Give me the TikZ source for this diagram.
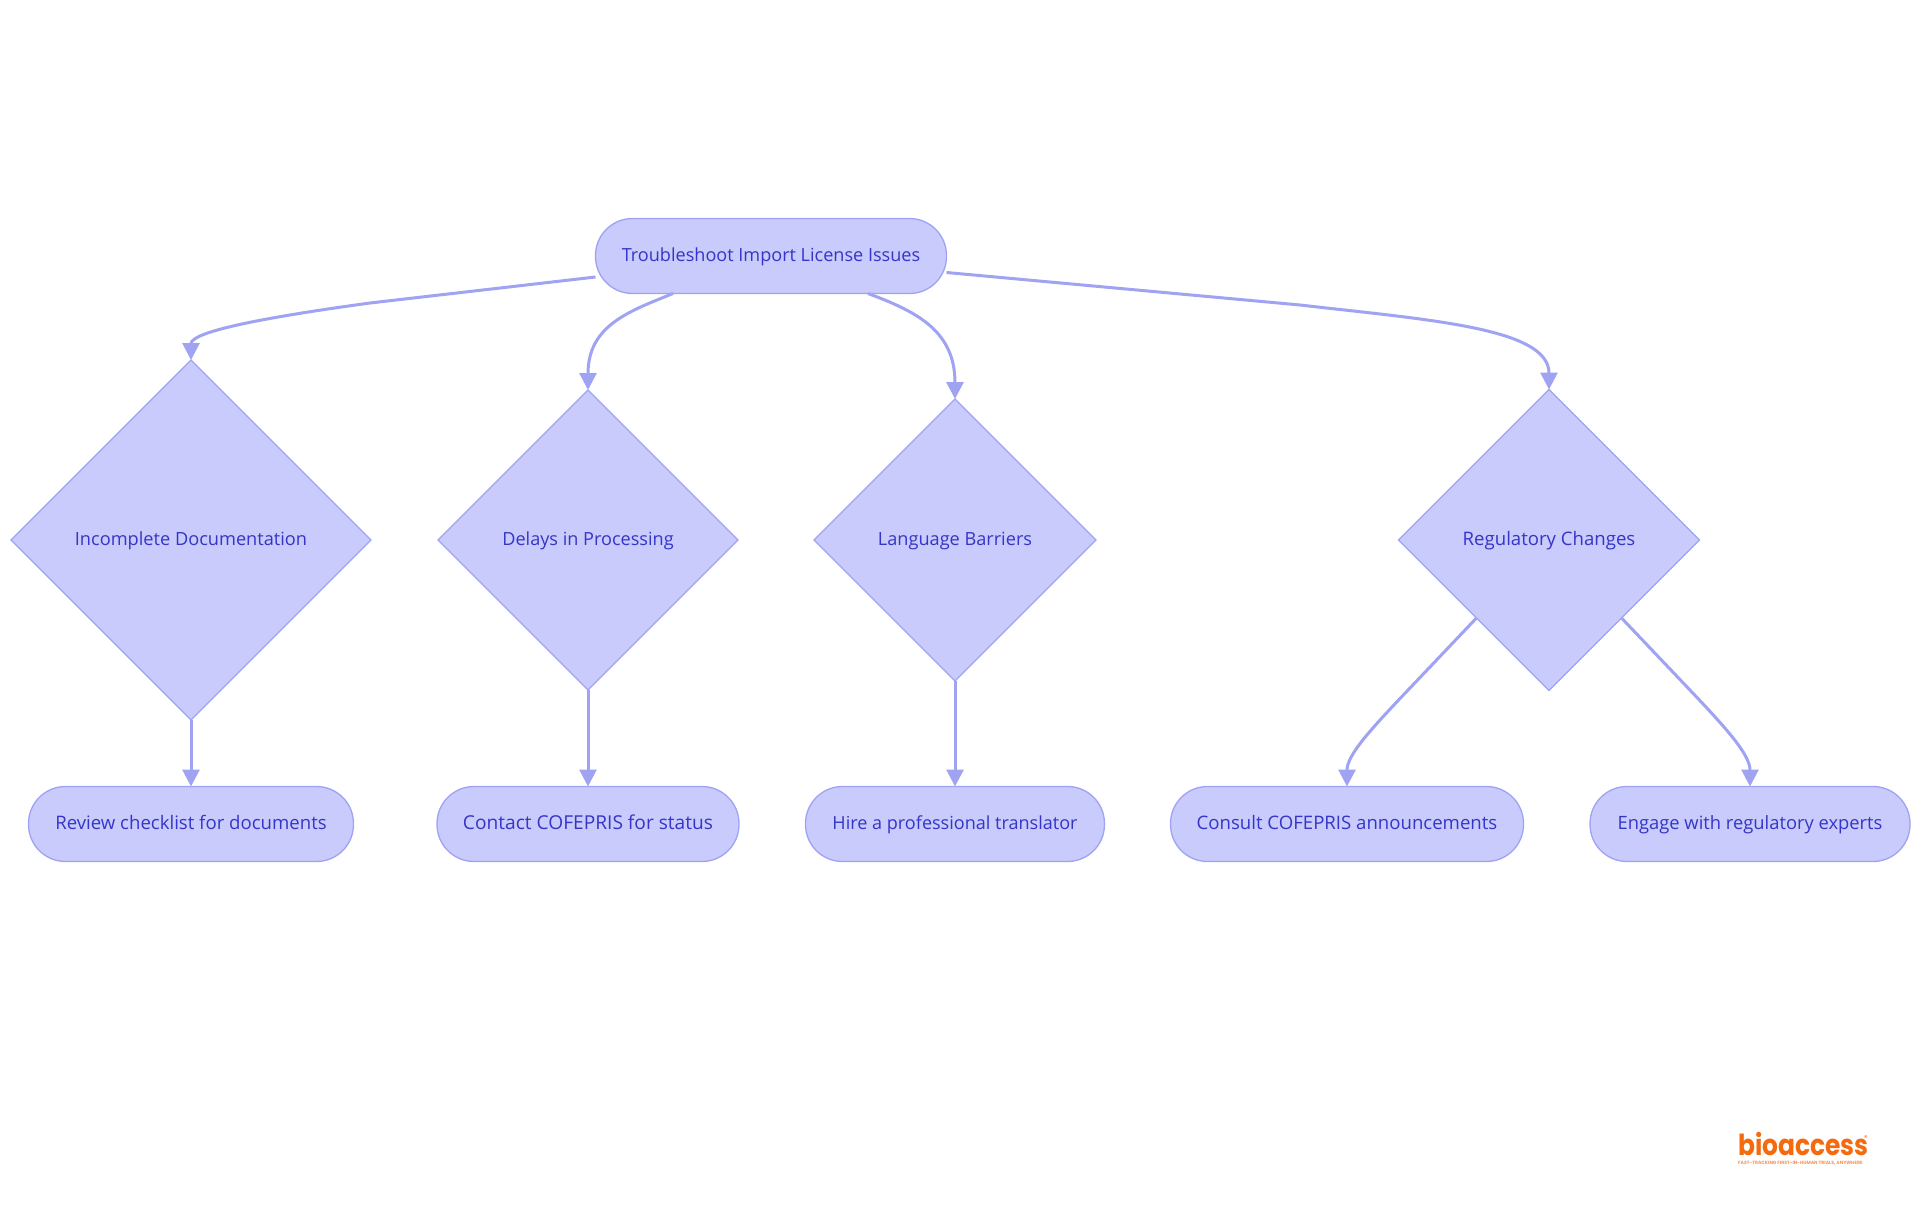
\documentclass[tikz,border=0pt]{standalone}
\usepackage{fontspec}
\setmainfont{Open Sans}
\newfontfamily\logofont{Poppins}
\usetikzlibrary{shapes.geometric,arrows.meta}
\definecolor{nodefill}{HTML}{C8CBFC}
\definecolor{nodeline}{HTML}{9FA3F2}
\definecolor{nodetext}{HTML}{3535C8}
\definecolor{logoorange}{HTML}{F56A0C}
\tikzset{
  x=1pt,y=-1pt,
  base/.style={fill=nodefill,draw=nodeline,line width=1.3pt,text=nodetext,inner sep=0pt,outer sep=0pt,text height=15.2pt,text depth=3.3pt},
  fs/.style={font=\fontsize{#1pt}{22pt}\selectfont},
  pill/.style={base,rectangle,rounded corners=37pt,minimum height=75pt},
  decision/.style={base,diamond,aspect=1},
  link/.style={draw=nodeline,line width=3pt,-{Triangle[length=17pt,width=17pt]}},
}
\begin{document}
\begin{tikzpicture}
\useasboundingbox[fill=white] (0,0) rectangle (1920,1215);
\node[pill,fs=18.08,minimum width=351pt] (root) at (771,256) {Troubleshoot Import License Issues};
\node[decision,fs=18.2,minimum width=360pt,minimum height=360pt] (d1) at (191,540) {Incomplete Documentation};
\node[decision,fs=18.1,minimum width=300pt,minimum height=300pt] (d2) at (588,540) {Delays in Processing};
\node[decision,fs=18.15,minimum width=282pt,minimum height=282pt] (d3) at (955,540) {Language Barriers};
\node[decision,fs=18.6,minimum width=301pt,minimum height=301pt] (d4) at (1549,540) {Regulatory Changes};
\node[pill,fs=18.6,minimum width=325pt] (l1) at (191,824) {Review checklist for documents};
\node[pill,fs=19.15,minimum width=302pt] (l2) at (588,824) {Contact COFEPRIS for status};
\node[pill,fs=18.05,minimum width=299pt] (l3) at (955,824) {Hire a professional translator};
\node[pill,fs=18.6,minimum width=353pt] (l4) at (1347,824) {Consult COFEPRIS announcements};
\node[pill,fs=18.35,minimum width=320pt] (l5) at (1750,824) {Engage with regulatory experts};
\draw[link] ([shift={(0,21)}]root.west) -- (370,303) .. controls (260,318) and (191,332) .. (d1.north);
\draw[link] ([shift={(-98,0)}]root.south) .. controls (630,311) and (588,325) .. (d2.north);
\draw[link] ([shift={(97,0)}]root.south) .. controls (915,311) and (955,330) .. (d3.north);
\draw[link] ([shift={(0,16.5)}]root.east) -- (1300,305) .. controls (1430,320) and (1549,328) .. (d4.north);
\draw[link] (d1.south) -- (l1.north);
\draw[link] (d2.south) -- (l2.north);
\draw[link] (d3.south) -- (l3.north);
\draw[link] ([shift={(-73,78.5)}]d4.center) -- (1410,688) .. controls (1370,730) and (1347,755) .. (l4.north);
\draw[link] ([shift={(73,78.5)}]d4.center) -- (1688,688) .. controls (1728,730) and (1750,755) .. (l5.north);
\node[text=logoorange,font=\logofont\bfseries\fontsize{29pt}{29pt}\selectfont,inner sep=0pt,anchor=base west] (logo) at (1738,1155) {\scalebox{0.86}[1]{bioaccess}};
\node[text=logoorange,font=\logofont\fontsize{7pt}{7pt}\selectfont,inner sep=0pt] (mark) at (1866,1138) {®};
\node[text=logoorange!70,font=\logofont\bfseries\fontsize{4.6pt}{5pt}\selectfont,inner sep=0pt,anchor=west] (tag) at (1738,1163) {FAST-TRACKING FIRST-IN-HUMAN TRIALS, ANYWHERE};
\end{tikzpicture}
\end{document}
